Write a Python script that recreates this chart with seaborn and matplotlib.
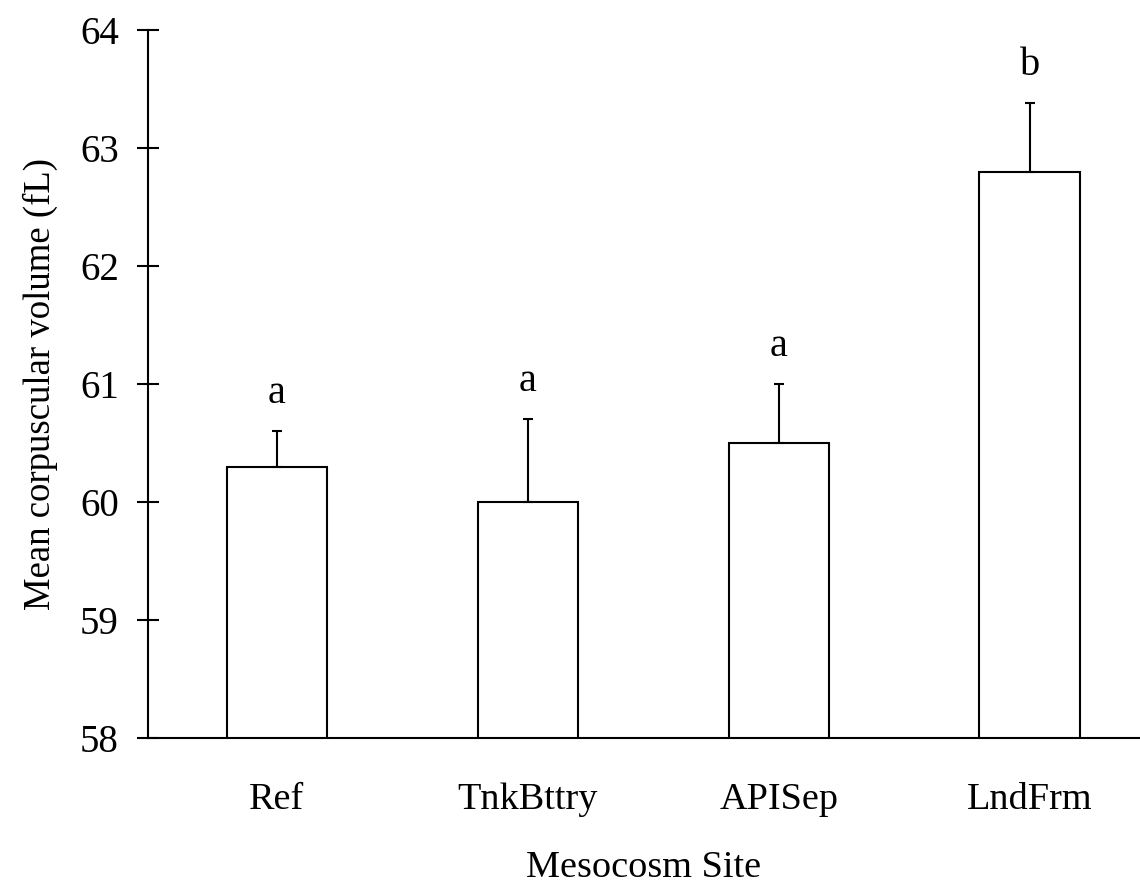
import matplotlib
matplotlib.use("Agg")
import matplotlib.pyplot as plt
import seaborn as sns
import pandas as pd
import numpy as np

sites = ["Ref", "TnkBttry", "APISep", "LndFrm"]
mcv_mean = [60.3, 60.0, 60.5, 62.8]
mcv_se = [0.3, 0.7, 0.5, 0.58]
letters = ["a", "a", "a", "b"]
y_ticks = [58, 59, 60, 61, 62, 63, 64]

sns.set_theme(style="white")
plt.rcParams['font.family'] = ['Liberation Serif', 'DejaVu Serif']

df = pd.DataFrame({"site": sites, "mcv": mcv_mean})

fig = plt.figure(figsize=(11.4, 8.9), dpi=100)
ax = fig.add_axes([0.1298, 0.1708, 0.8702, 0.7955])

sns.barplot(data=df, x="site", y="mcv", ax=ax, color="white",
            edgecolor="black", linewidth=1.5, width=0.4, errorbar=None,
            order=sites)
for p in ax.patches:
    p.set_facecolor("white")

xpos = np.arange(len(sites))
ax.errorbar(xpos, mcv_mean, yerr=[np.zeros(len(sites)), mcv_se], fmt="none",
            ecolor="black", elinewidth=1.5, capsize=3.6, capthick=1.5, zorder=3)

for x, m, e, lab in zip(xpos, mcv_mean, mcv_se, letters):
    ax.text(x, m + e + 0.32, lab, ha="center", va="center", fontsize=29,
            color="black")

ax.set_ylim(58, 64)
ax.set_xlim(-0.514, 3.44)
ax.set_yticks(y_ticks)
ax.set_yticklabels([str(t) for t in y_ticks])

for s in ["top", "right"]:
    ax.spines[s].set_visible(False)
for s in ["left", "bottom"]:
    ax.spines[s].set_linewidth(1.5)
    ax.spines[s].set_color("black")

ax.tick_params(axis="y", direction="inout", length=16, width=1.5,
               labelsize=28, pad=13, colors="black", left=True)
ax.tick_params(axis="x", length=0, labelsize=27.5, pad=32, colors="black")

ax.set_xlabel("Mesocosm Site", fontsize=27.5, labelpad=24, color="black")
ax.set_ylabel("Mean corpuscular volume (fL)", fontsize=26.5, labelpad=16,
              color="black")

fig.savefig("out.png", dpi=100, facecolor="white")
